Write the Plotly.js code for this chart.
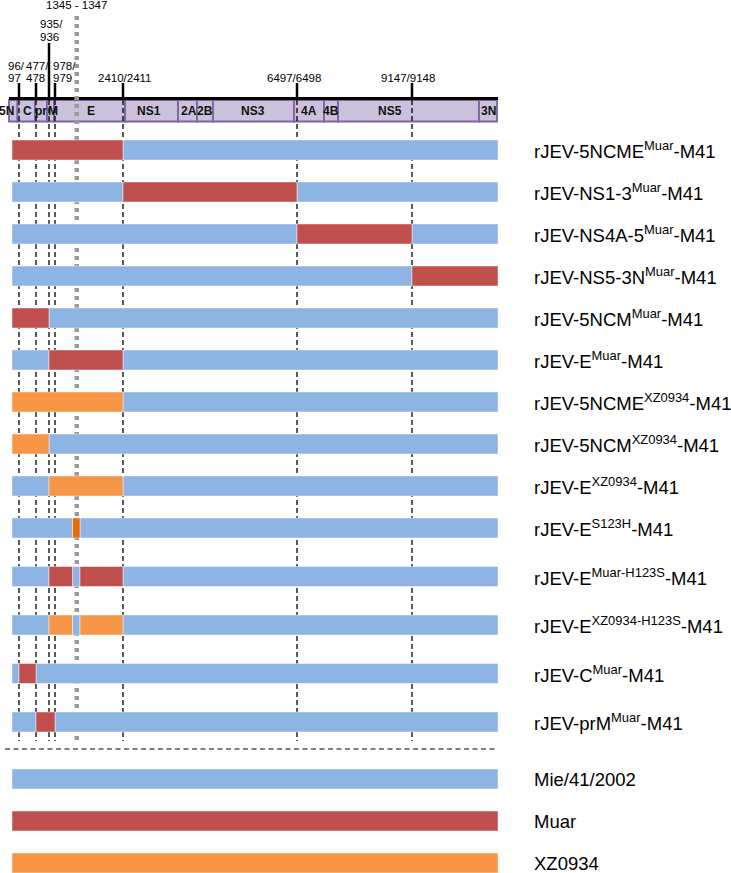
<!DOCTYPE html>
<html><head><meta charset="utf-8">
<script src="https://cdn.plot.ly/plotly-3.0.1.min.js"></script>
<style>html,body{margin:0;padding:0;background:#fff}#chart{width:731px;height:873px}</style>
</head><body><div id="chart"></div>
<script>
// ================= DATA =================
// genome regions of the schematic (names + edges on the schematic map scale)
const regionNames = ['5N','C','pr','M','E','NS1','2A','2B','NS3','4A','4B','NS5','3N'];
const regionEdges = [9,17.5,35,47,54,125,178,197,213,294,324,338,479,497];

// nucleotide junctions and their place on the schematic map
const mapNt = [0, 96, 477, 935, 978, 1345, 1347, 2410, 6497, 9147, 10965];
const mapX  = [12, 19, 36, 49, 55, 72.5, 80, 123, 297, 412, 498];

// junction labels drawn above the genome
const junctionNt = [96, 477, 935, 978, 2410, 6497, 9147];
const junctionLabels = ['96/\n97', '477/\n478', '935/\n936', '978/\n979', '2410/2411', '6497/6498', '9147/9148'];
const hotspotNt = [1345, 1347];
const hotspotLabel = '1345 - 1347';

// constructs
const constructNames = [
  'rJEV-5NCME<sup>Muar</sup>-M41',
  'rJEV-NS1-3<sup>Muar</sup>-M41',
  'rJEV-NS4A-5<sup>Muar</sup>-M41',
  'rJEV-NS5-3N<sup>Muar</sup>-M41',
  'rJEV-5NCM<sup>Muar</sup>-M41',
  'rJEV-E<sup>Muar</sup>-M41',
  'rJEV-5NCME<sup>XZ0934</sup>-M41',
  'rJEV-5NCM<sup>XZ0934</sup>-M41',
  'rJEV-E<sup>XZ0934</sup>-M41',
  'rJEV-E<sup>S123H</sup>-M41',
  'rJEV-E<sup>Muar-H123S</sup>-M41',
  'rJEV-E<sup>XZ0934-H123S</sup>-M41',
  'rJEV-C<sup>Muar</sup>-M41',
  'rJEV-prM<sup>Muar</sup>-M41'
];
// segments [startNt, endNt, origin]
const constructSegments = [
  [[0,2410,'Muar'],[2410,10965,'M41']],
  [[0,2410,'M41'],[2410,6497,'Muar'],[6497,10965,'M41']],
  [[0,6497,'M41'],[6497,9147,'Muar'],[9147,10965,'M41']],
  [[0,9147,'M41'],[9147,10965,'Muar']],
  [[0,935,'Muar'],[935,10965,'M41']],
  [[0,935,'M41'],[935,2410,'Muar'],[2410,10965,'M41']],
  [[0,2410,'XZ0934'],[2410,10965,'M41']],
  [[0,935,'XZ0934'],[935,10965,'M41']],
  [[0,935,'M41'],[935,2410,'XZ0934'],[2410,10965,'M41']],
  [[0,1345,'M41'],[1345,1347,'S123H'],[1347,10965,'M41']],
  [[0,935,'M41'],[935,1345,'Muar'],[1345,1347,'M41'],[1347,2410,'Muar'],[2410,10965,'M41']],
  [[0,935,'M41'],[935,1345,'XZ0934'],[1345,1347,'M41'],[1347,2410,'XZ0934'],[2410,10965,'M41']],
  [[0,96,'M41'],[96,477,'Muar'],[477,10965,'M41']],
  [[0,477,'M41'],[477,978,'Muar'],[978,10965,'M41']]
];
// parental strains (legend)
const strainKeys = ['M41','Muar','XZ0934'];
const strainNames = ['Mie/41/2002','Muar','XZ0934'];

// ================= STYLE / LAYOUT =================
const colors = {M41:'#8EB4E3', Muar:'#C0504D', XZ0934:'#F79646', S123H:'#E46C0A'};
const FONT = 'Liberation Sans, Arial, sans-serif';
function ntToX(nt){ const i = mapNt.indexOf(nt); return mapX[i]; }

const rowY = constructNames.map((_, i) => i < 10 ? 150 + 42*i : 528 + 48.5*(i-9));
const legendY = [779, 821, 863];
const barH = 20;

// bar traces, one per origin
const traces = [];
const order = ['M41','Muar','XZ0934','S123H'];
order.forEach(k => {
  const y=[], base=[], len=[];
  constructSegments.forEach((segs, r) => segs.forEach(s => {
    if (s[2] === k){ y.push(rowY[r]); base.push(ntToX(s[0])); len.push(ntToX(s[1]) - ntToX(s[0])); }
  }));
  const li = strainKeys.indexOf(k);
  if (li >= 0){ y.push(legendY[li]); base.push(mapX[0]); len.push(mapX[mapX.length-1]-mapX[0]); }
  traces.push({type:'bar', orientation:'h', y:y, base:base, x:len, width:barH,
    marker:{color:colors[k], line:{color:'rgba(255,255,255,0.45)', width:1}},
    hoverinfo:'skip', showlegend:false});
});

const shapes = [];
// genome bar
const gTop = 100, gBot = 121.5;
for (let i=0;i<regionNames.length;i++){
  shapes.push({type:'rect', xref:'x', yref:'y', x0:regionEdges[i], x1:regionEdges[i+1], y0:gTop, y1:gBot,
    fillcolor:'#CCC1DA', line:{color:'#7E63A0', width:1.8}, layer:'below'});
}
shapes.push({type:'line', xref:'x', yref:'y', x0:regionEdges[0], x1:mapX[mapX.length-1], y0:98.5, y1:98.5,
  line:{color:'#000', width:3}, layer:'below'});
// junction dashed lines
junctionNt.forEach(nt => {
  shapes.push({type:'line', xref:'x', yref:'y', x0:ntToX(nt), x1:ntToX(nt), y0:gTop, y1:741,
    line:{color:'#000', width:1.3, dash:'5px,3px'}, layer:'below'});
});
// hotspot grey dotted line
const hx = (ntToX(hotspotNt[0]) + ntToX(hotspotNt[1]))/2 + 0.5;
shapes.push({type:'line', xref:'x', yref:'y', x0:hx, x1:hx, y0:16, y1:741,
  line:{color:'#9A9A9A', width:4.5, dash:'4px,4px'}, layer:'below'});
// junction tick lines
const tickTop = [83, 83, 43, 83, 83, 83, 83];
junctionNt.forEach((nt, i) => {
  shapes.push({type:'line', xref:'x', yref:'y', x0:ntToX(nt), x1:ntToX(nt), y0:tickTop[i], y1:97,
    line:{color:'#000', width:2.5}, layer:'below'});
});
// separator
shapes.push({type:'line', xref:'x', yref:'y', x0:5, x1:496, y0:749, y1:749,
  line:{color:'#000', width:1.2, dash:'5px,3.5px'}, layer:'below'});

const annotations = [];
// region labels
const regionLabelAt = [6.5, 27.5, 41, 52.5, 91, 148.5, 189, 205, 253, 309, 331, 390, 488];
regionNames.forEach((n, i) => annotations.push({x:regionLabelAt[i], y:111, xref:'x', yref:'y', text:'<b>'+n+'</b>',
  showarrow:false, xanchor:'center', yanchor:'middle', borderpad:0, font:{family:FONT, size:12, color:'#111'}}));
// junction labels
const labLeft = [7, 25, 39, 52, null, null, null];
const labCenter = [null, null, null, null, 125, 294, 408];
const labY = [[66,78],[66,78],[24,36.5],[66,78],[78],[78],[78]];
junctionLabels.forEach((t, i) => {
  t.split('\n').forEach((line, j) => {
    annotations.push({x: labLeft[i] !== null ? labLeft[i] : labCenter[i], y: labY[i][j], xref:'x', yref:'y',
      text: line, showarrow:false, xanchor: labLeft[i] !== null ? 'left' : 'center', yanchor:'middle', borderpad:0,
      font:{family:FONT, size:11.5, color:'#000'}});
  });
});
annotations.push({x:hx, y:5, xref:'x', yref:'y', text:hotspotLabel, showarrow:false, xanchor:'center', yanchor:'middle',
  borderpad:0, font:{family:FONT, size:11.5, color:'#000'}});
// construct labels
constructNames.forEach((n, i) => annotations.push({x:532, y:rowY[i], xref:'x', yref:'y', text:n, showarrow:false,
  xanchor:'left', yanchor:'middle', font:{family:FONT, size:18.5, color:'#000'}}));
strainNames.forEach((n, i) => annotations.push({x:532, y:legendY[i], xref:'x', yref:'y', text:n, showarrow:false,
  xanchor:'left', yanchor:'middle', font:{family:FONT, size:18.5, color:'#000'}}));

const layout = {
  width:731, height:873, margin:{l:0, r:0, t:0, b:0},
  paper_bgcolor:'#fff', plot_bgcolor:'#fff',
  barmode:'overlay', showlegend:false,
  xaxis:{range:[0,731], visible:false, fixedrange:true},
  yaxis:{range:[873,0], visible:false, fixedrange:true},
  shapes:shapes, annotations:annotations
};
Plotly.newPlot('chart', traces, layout, {displayModeBar:false, staticPlot:true});
</script></body></html>
